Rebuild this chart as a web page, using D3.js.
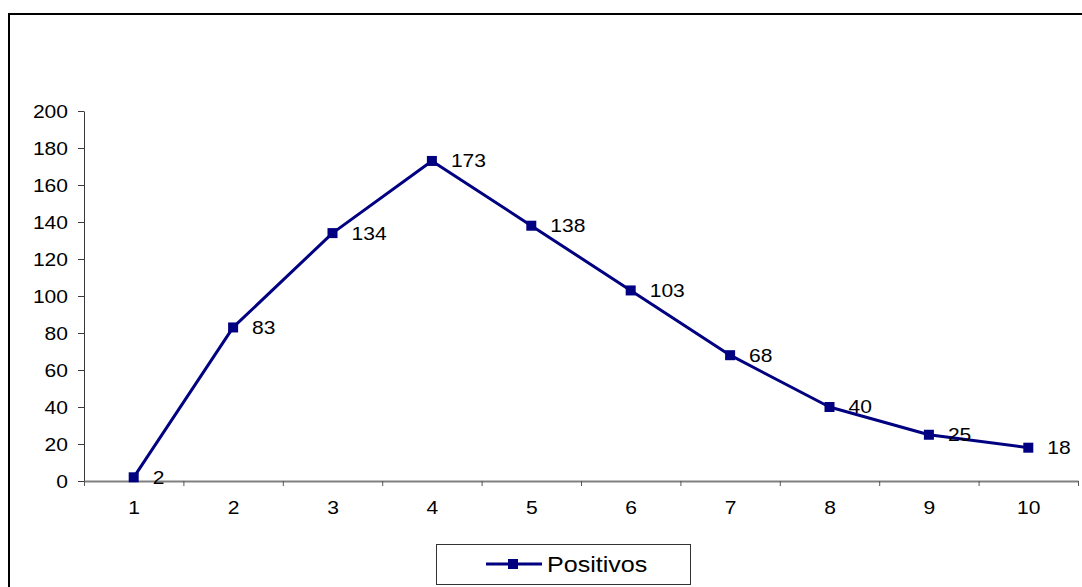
<!DOCTYPE html>
<html>
<head>
<meta charset="utf-8">
<script src="https://cdn.jsdelivr.net/npm/d3@7"></script>
<style>
  html, body { margin: 0; padding: 0; background: #fff; }
  svg { display: block; }
  text { font-family: "Liberation Sans", Arial, sans-serif; fill: #000; }
</style>
</head>
<body>
<svg id="chart" width="1082" height="587"></svg>
<script>
const categories = [1, 2, 3, 4, 5, 6, 7, 8, 9, 10];
const positivos = [2, 83, 134, 173, 138, 103, 68, 40, 25, 18];
const yTicks = [0, 20, 40, 60, 80, 100, 120, 140, 160, 180, 200];
const seriesName = "Positivos";

const svg = d3.select("#chart");
const SX = 1.17;            // horizontal text stretch seen in reference
const navy = "#000080";

// outer chart border (top + left visible)
svg.append("path")
  .attr("d", "M9,600 L9,14 L1090,14")
  .attr("fill", "none").attr("stroke", "#000").attr("stroke-width", 2);

const x = d3.scaleLinear().domain([0.5, 10.5]).range([84, 1078]);
const y = d3.scaleLinear().domain([0, 200]).range([481, 111]);

// Y axis
const yAxis = svg.append("g").attr("transform", "translate(84,0)")
  .call(d3.axisLeft(y).tickValues(yTicks).tickSize(6).tickSizeOuter(0).tickPadding(0));
yAxis.select(".domain").attr("stroke", "#3a3a3a").attr("stroke-width", 1);
yAxis.selectAll(".tick line").attr("stroke", "#3a3a3a");
yAxis.selectAll(".tick text")
  .attr("font-size", 18).attr("text-anchor", "end")
  .attr("x", -16 / SX).attr("dy", "0.36em")
  .attr("transform", `scale(${SX},1)`);

// X axis: tick marks at category boundaries
const bounds = d3.range(0, 11).map(i => 0.5 + i);
const xAxis = svg.append("g").attr("transform", "translate(0,481)")
  .call(d3.axisBottom(x).tickValues(bounds).tickSize(5).tickSizeOuter(0).tickFormat(""));
xAxis.select(".domain").attr("stroke", "#808080").attr("stroke-width", 2);
xAxis.selectAll(".tick line").attr("stroke", "#555");

// X labels at category centers
const xLab = svg.append("g").attr("transform", "translate(0,481)")
  .call(d3.axisBottom(x).tickValues(categories).tickSize(0).tickFormat(d3.format("d")));
xLab.select(".domain").remove();
xLab.selectAll(".tick text")
  .attr("font-size", 18).attr("y", 33).attr("dy", 0)
  .attr("transform", `scale(${SX},1)`)
  .each(function() { d3.select(this).attr("x", 0); });

// line
const data = categories.map((c, i) => ({ c, v: positivos[i] }));
svg.append("path").datum(data)
  .attr("fill", "none").attr("stroke", navy).attr("stroke-width", 3)
  .attr("stroke-linejoin", "round")
  .attr("d", d3.line().x(d => x(d.c)).y(d => y(d.v)));

// markers
svg.append("g").selectAll("rect").data(data).join("rect")
  .attr("x", d => x(d.c) - 5).attr("y", d => y(d.v) - 5)
  .attr("width", 10).attr("height", 10).attr("fill", navy);

// data labels
svg.append("g").selectAll("text").data(data).join("text")
  .attr("transform", d => `translate(${x(d.c) + 19},${y(d.v)}) scale(${SX},1)`)
  .attr("dy", "0.36em").attr("font-size", 18)
  .text(d => d.v);

// legend
const lg = svg.append("g");
lg.append("rect").attr("x", 436.5).attr("y", 544.5).attr("width", 254).attr("height", 40)
  .attr("fill", "#fff").attr("stroke", "#333").attr("stroke-width", 1);
lg.append("line").attr("x1", 486).attr("x2", 542).attr("y1", 564).attr("y2", 564)
  .attr("stroke", navy).attr("stroke-width", 3);
lg.append("rect").attr("x", 508).attr("y", 559).attr("width", 10).attr("height", 10).attr("fill", navy);
lg.append("text").attr("transform", `translate(547,564) scale(1.14,1)`)
  .attr("dy", "0.36em").attr("font-size", 22).text(seriesName);
</script>
</body>
</html>
